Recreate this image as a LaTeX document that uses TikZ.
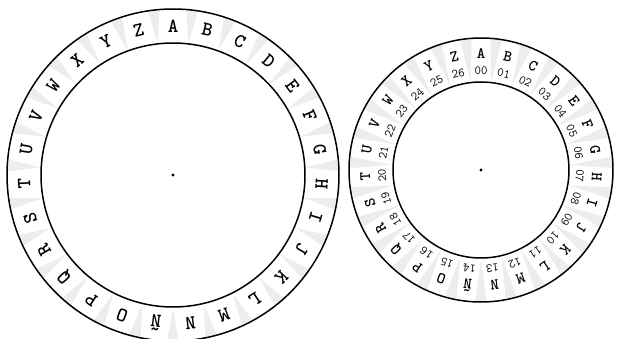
\documentclass[tikz,border=0pt]{standalone}
\usetikzlibrary{calc}

\tikzset{
  ring/.style={line width=1.5pt},
  wedge/.style={fill=black!7},
  bigletter/.style={font=\ttfamily\bfseries\fontsize{20}{20}\selectfont, inner sep=0pt},
  smallletter/.style={font=\ttfamily\bfseries\fontsize{16}{16}\selectfont, inner sep=0pt},
  smallnumber/.style={font=\ttfamily\fontsize{12.5}{12.5}\selectfont, inner sep=0pt},
  hub/.style={circle, fill=black, inner sep=0pt, minimum size=3.2pt}
}

\newcommand{\cipherletters}{A,B,C,D,E,F,G,H,I,J,K,L,M,N,Ñ,O,P,Q,R,S,T,U,V,W,X,Y,Z}

\begin{document}
\begin{tikzpicture}
  \useasboundingbox (0pt,0pt) rectangle (625pt,338pt);
  \clip (0pt,0pt) rectangle (625pt,338pt);

  % ============================================================
  % LEFT DISK: outer alphabet
  % ============================================================
  \coordinate (lc) at (173pt,163pt);

  % sector wedges
  \foreach \i in {0,...,26} {
    \pgfmathsetmacro{\b}{90-(\i+0.5)*360/27}
    \fill[wedge] ([shift={(\b-2:165pt)}]lc) -- ([shift={(\b:133pt)}]lc)
      -- ([shift={(\b+2:165pt)}]lc) -- cycle;
  }

  \draw[ring] (lc) circle[radius=166pt];
  \draw[ring] (lc) circle[radius=132pt];
  \node[hub] (lhub) at (lc) {};

  % letters
  \foreach \ch [count=\i from 0] in \cipherletters {
    \pgfmathsetmacro{\ang}{90-\i*360/27}
    \node[bigletter, rotate=\ang-90] (L\i) at ([shift={(\ang:149pt)}]lc) {\ch};
  }

  % ============================================================
  % RIGHT DISK: alphabet with numbers
  % ============================================================
  \coordinate (rc) at (481pt,168pt);

  % sector wedges
  \foreach \i in {0,...,26} {
    \pgfmathsetmacro{\b}{90-(\i+0.5)*360/27}
    \fill[wedge] ([shift={(\b-2.5:131pt)}]rc) -- ([shift={(\b:89pt)}]rc)
      -- ([shift={(\b+2.5:131pt)}]rc) -- cycle;
  }

  \draw[ring] (rc) circle[radius=132pt];
  \draw[ring] (rc) circle[radius=88pt];
  \node[hub] (rhub) at (rc) {};

  % letters and numbers
  \foreach \ch [count=\i from 0] in \cipherletters {
    \pgfmathsetmacro{\ang}{90-\i*360/27}
    \node[smallletter, rotate=\ang-90] (R\i) at ([shift={(\ang:116pt)}]rc) {\ch};
    \node[smallnumber, rotate=\ang-90] (N\i) at ([shift={(\ang:99pt)}]rc)
      {\ifnum\i<10 0\fi\i};
  }

\end{tikzpicture}
\end{document}
